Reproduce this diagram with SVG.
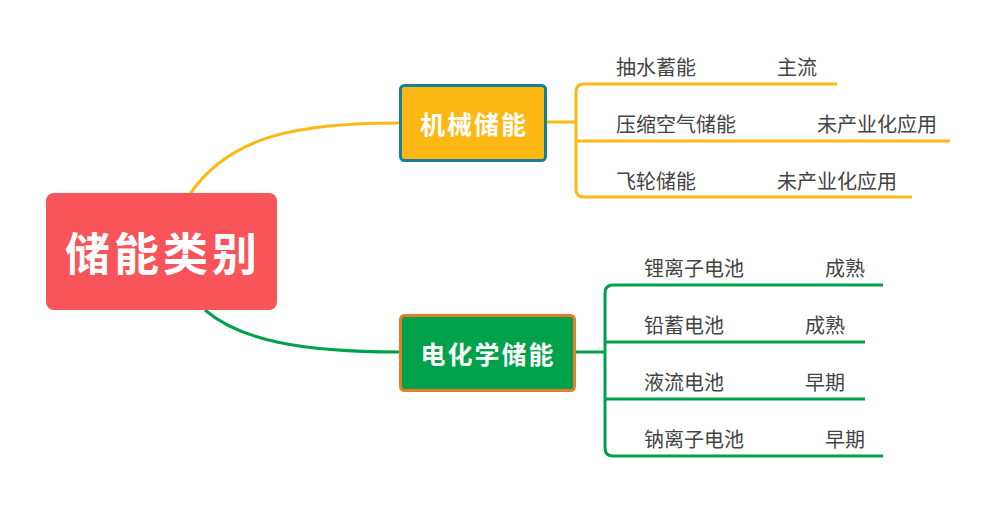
<svg xmlns="http://www.w3.org/2000/svg" width="1001" height="507" viewBox="0 0 1001 507">
<style>
.t{font-family:"Noto Sans CJK SC","Noto Sans",sans-serif;font-size:20px;fill:#444}
.w{font-family:"Noto Sans CJK SC","Noto Sans",sans-serif;fill:#fff;font-weight:bold;text-anchor:middle}
.y{fill:none;stroke:#FDB813;stroke-width:3}
.g{fill:none;stroke:#00A14B;stroke-width:3}
</style>
<rect width="1001" height="507" fill="#fff"/>
<g id="connectors">
<path class="y" d="M190,194 C230,135 300,123 399,123"/>
<path class="g" d="M205,310 C240,340 300,352 399,352"/>
<path class="y" d="M546,122 H576 M576,122 V92 Q576,84 584,84 H837 M576,122 V189 Q576,197 584,197 H912 M576,141 H950"/>
<path class="g" d="M575,352 H605 M605,352 V293 Q605,285 613,285 H883 M605,352 V448 Q605,456 613,456 H883 M605,342 H865 M605,399 H865"/>
</g>
<g id="root">
<rect x="46" y="193" width="231" height="117" rx="8" fill="#FA545B"/>
<text class="w" x="163" y="271" font-size="45" letter-spacing="4">储能类别</text>
</g>
<g id="mech">
<rect x="400.5" y="85.5" width="145" height="75" rx="4" fill="#FDB813" stroke="#167F98" stroke-width="3"/>
<text class="w" x="474" y="134" font-size="25" letter-spacing="2">机械储能</text>
</g>
<g id="chem">
<rect x="400.5" y="315.5" width="174" height="75" rx="4" fill="#00A14B" stroke="#E97C2A" stroke-width="3"/>
<text class="w" x="488" y="364" font-size="25" letter-spacing="2">电化学储能</text>
</g>
<g id="leaf-mech">
<text class="t" x="616" y="75">抽水蓄能</text>
<text class="t" x="777" y="75">主流</text>
<text class="t" x="616" y="132">压缩空气储能</text>
<text class="t" x="817" y="132">未产业化应用</text>
<text class="t" x="616" y="189">飞轮储能</text>
<text class="t" x="777" y="189">未产业化应用</text>
</g>
<g id="leaf-chem">
<text class="t" x="644" y="276">锂离子电池</text>
<text class="t" x="825" y="276">成熟</text>
<text class="t" x="644" y="333">铅蓄电池</text>
<text class="t" x="805" y="333">成熟</text>
<text class="t" x="644" y="390">液流电池</text>
<text class="t" x="805" y="390">早期</text>
<text class="t" x="644" y="447">钠离子电池</text>
<text class="t" x="825" y="447">早期</text>
</g>
</svg>
